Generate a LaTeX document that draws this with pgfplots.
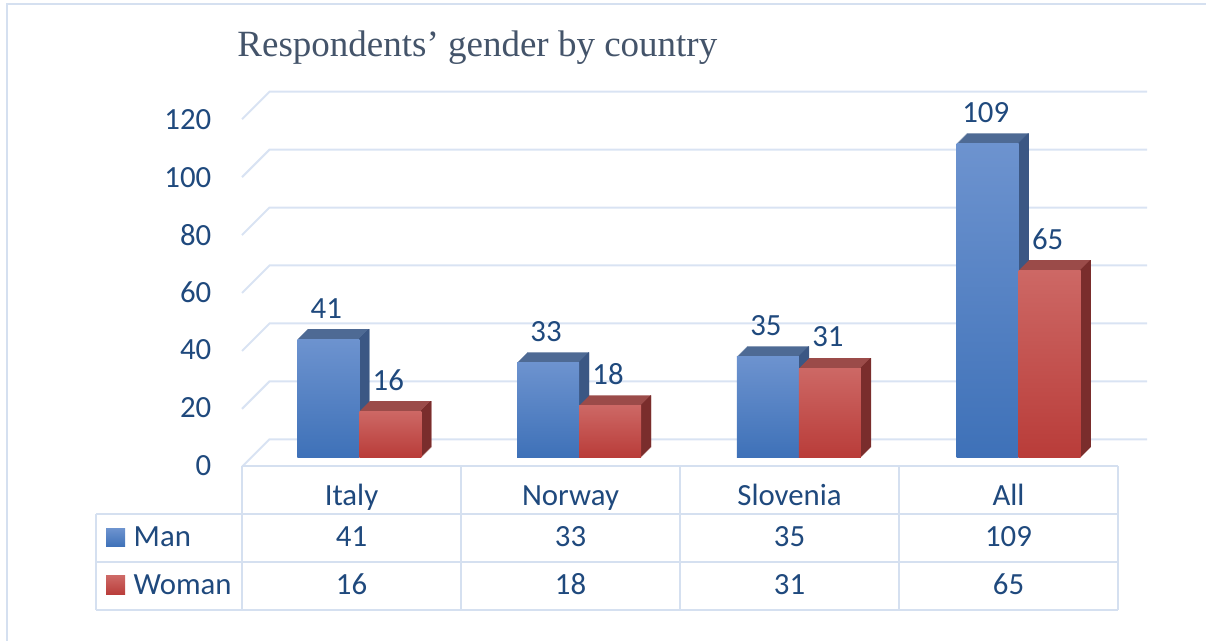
\documentclass[border=0pt]{standalone}
\usepackage{pgfplots}
\pgfplotsset{compat=1.18}
\usepackage{pgfplotstable}
\usepackage{fontspec}
\setmainfont{Carlito}
\newfontfamily\titlefont{Liberation Serif}
\definecolor{txt}{HTML}{1F497D}
\definecolor{ttl}{HTML}{44546A}
\definecolor{gridc}{HTML}{D9E3F3}
\definecolor{tabc}{HTML}{D5E0F0}
\definecolor{manT}{HTML}{6D93CF}
\definecolor{manB}{HTML}{3E71B8}
\definecolor{manTop}{HTML}{4E6A94}
\definecolor{manSide}{HTML}{3B5784}
\definecolor{womT}{HTML}{CD6865}
\definecolor{womB}{HTML}{B93C39}
\definecolor{womTop}{HTML}{9B4B49}
\definecolor{womSide}{HTML}{7A2D2C}
\newcommand\lbl{\fontsize{15.4}{18}\selectfont}
\pgfplotsset{/pgf/number format/assume math mode=true}

\pgfplotstableread{
x man woman
0 41 16
1 33 18
2 35 31
3 109 65
}\data

\begin{document}
\begin{tikzpicture}
\useasboundingbox (0,0) rectangle (603pt,-320.5pt);
\begin{scope}[x=0.5pt,y=-0.5pt]
  % frame
  \draw[tabc, line width=1pt] (7,641) -- (7,4.5) -- (1206,4.5);
  % title
  \node[anchor=base west, inner sep=0pt, font=\titlefont\fontsize{18.5}{22}\selectfont, text=ttl] at (237,57) {Respondents’ gender by country};
  % walls / gridlines
  \foreach \v in {0,20,...,120}{
    \pgfmathsetmacro\yb{439.3-2.8967*\v}
    \draw[gridc, line width=1pt] (242,\yb+27.5) -- (269.5,\yb) -- (1147,\yb);
  }
  % data table
  \draw[tabc, line width=1pt] (242,466) -- (1118,466);
  \foreach \yy in {514.3,562.3,610} \draw[tabc, line width=1pt] (96,\yy) -- (1118,\yy);
  \draw[tabc, line width=1pt] (96,514.3) -- (96,610);
  \foreach \xx in {242,461,680,899,1118} \draw[tabc, line width=1pt] (\xx,466) -- (\xx,610);
  \foreach \xx/\c in {351.5/Italy,570.5/Norway,789.5/Slovenia,1008.5/All}
    \node[anchor=base, inner sep=0pt, font=\lbl, text=txt] at (\xx,506) {\c};
  \foreach \xx/\c in {351.5/41,570.5/33,789.5/35,1008.5/109}
    \node[anchor=base, inner sep=0pt, font=\lbl, text=txt] at (\xx,546.7) {\c};
  \foreach \xx/\c in {351.5/16,570.5/18,789.5/31,1008.5/65}
    \node[anchor=base, inner sep=0pt, font=\lbl, text=txt] at (\xx,595) {\c};
  \node[anchor=base west, inner sep=0pt, font=\lbl, text=txt] at (133.3,546.7) {Man};
  \node[anchor=base west, inner sep=0pt, font=\lbl, text=txt] at (133.3,595) {Woman};
\end{scope}
% legend keys
\shade[top color=manT, bottom color=manB] (53pt,-264.15pt) rectangle (62.5pt,-273.35pt);
\shade[top color=womT, bottom color=womB] (53pt,-288pt) rectangle (62.5pt,-297.5pt);

\begin{axis}[
  anchor=origin, at={(179.65pt,-228.65pt)},
  x=109.9pt, y=1.44pt,
  xmin=-0.6715, xmax=3.584, ymin=0, ymax=120,
  clip=false,
  axis line style={draw=none},
  xtick=\empty,
  ytick={0,20,...,120},
  major tick length=0pt,
  tick style={draw=none},
  yticklabel style={font=\lbl, text=txt, anchor=east, inner sep=0pt, yshift=-4pt},
]
% ---- Man ----
\pgfplotsinvokeforeach{1,...,10}{
  \addplot[ybar, bar width=31pt, bar shift={-15.5pt+#1*0.5pt}, yshift=#1*0.5pt, fill=manTop, draw=none, forget plot] table[x=x,y=man]{\data};
}
\pgfplotsinvokeforeach{1,...,10}{
  \addplot[ybar, bar width=0.6pt, bar shift={(#1-0.5)*0.5pt}, yshift=#1*0.5pt, fill=manSide, draw=none, forget plot] table[x=x,y=man]{\data};
}
\pgfplotsinvokeforeach{0,1,2,3}{
  \addplot[ybar, bar width=31pt, bar shift=-15.5pt, draw=none, top color=manT, bottom color=manB, forget plot,
    x filter/.expression={abs(x-#1)<0.1 ? x : nan}] table[x=x,y=man]{\data};
}
% ---- Woman ----
\pgfplotsinvokeforeach{1,...,10}{
  \addplot[ybar, bar width=31pt, bar shift={15.5pt+#1*0.5pt}, yshift=#1*0.5pt, fill=womTop, draw=none, forget plot] table[x=x,y=woman]{\data};
}
\pgfplotsinvokeforeach{1,...,10}{
  \addplot[ybar, bar width=0.6pt, bar shift={31pt+(#1-0.5)*0.5pt}, yshift=#1*0.5pt, fill=womSide, draw=none, forget plot] table[x=x,y=woman]{\data};
}
\pgfplotsinvokeforeach{0,1,2,3}{
  \addplot[ybar, bar width=31pt, bar shift=15.5pt, draw=none, top color=womT, bottom color=womB, forget plot,
    x filter/.expression={abs(x-#1)<0.1 ? x : nan}] table[x=x,y=woman]{\data};
}
% ---- value labels ----
\addplot[draw=none, mark=none, forget plot, nodes near coords,
  every node near coord/.append style={font=\lbl, text=txt, anchor=center, inner sep=0pt, xshift=-16.5pt, yshift=15.5pt}]
  table[x=x,y=man]{\data};
\addplot[draw=none, mark=none, forget plot, nodes near coords,
  every node near coord/.append style={font=\lbl, text=txt, anchor=center, inner sep=0pt, xshift=14.5pt, yshift=15.5pt}]
  table[x=x,y=woman]{\data};
\end{axis}
\end{tikzpicture}
\end{document}
